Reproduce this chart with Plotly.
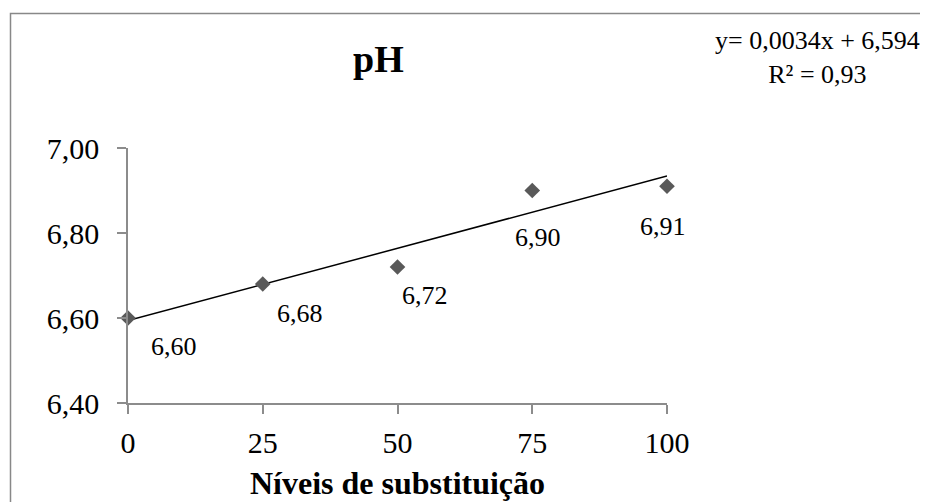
import plotly.graph_objects as go

niveis = [0, 25, 50, 75, 100]
ph = [6.60, 6.68, 6.72, 6.90, 6.91]
ph_labels = ["6,60", "6,68", "6,72", "6,90", "6,91"]
x_ticks = [0, 25, 50, 75, 100]
y_ticks = [6.40, 6.60, 6.80, 7.00]
y_tick_labels = ["6,40", "6,60", "6,80", "7,00"]
slope = 0.0034
intercept = 6.594
equation_text = "y= 0,0034x + 6,594<br>R² = 0,93"
title_text = "pH"
x_title = "Níveis de substituição"

# label offsets (pixels) for data labels
label_dx = [46, 37, 27, 6, -4]
label_dy = [-28, -29, -28, -47, -40]

FONT = "Liberation Serif, Times New Roman, serif"

# page body has an 8px margin; figure coordinates = screen - 8
OFF = 8
L, T, PW, PH = 128 - OFF, 148 - OFF, 539, 255
W, H = 928, 502


def px(sx):
    return (sx - OFF - L) / PW


def py(sy):
    return (T + PH - (sy - OFF)) / PH


fig = go.Figure()
trend_x = [min(niveis), max(niveis)]
trend_y = [intercept + slope * v for v in trend_x]
fig.add_trace(go.Scatter(x=trend_x, y=trend_y, mode="lines",
                         line=dict(color="black", width=1.5),
                         showlegend=False, hoverinfo="skip", cliponaxis=False))
fig.add_trace(go.Scatter(x=niveis, y=ph, mode="markers",
                         marker=dict(symbol="diamond", size=12, color="#595959"),
                         showlegend=False, cliponaxis=False))

for xv, yv, t, dx, dy in zip(niveis, ph, ph_labels, label_dx, label_dy):
    fig.add_annotation(x=xv, y=yv, xref="x", yref="y", text=t, showarrow=False,
                       xshift=dx, yshift=dy,
                       font=dict(family=FONT, size=26, color="black"))

fig.add_annotation(x=px(378), y=py(59), xref="paper", yref="paper",
                   text="<b>" + title_text + "</b>", showarrow=False,
                   xanchor="center", yanchor="middle",
                   font=dict(family=FONT, size=38, color="black"))
fig.add_annotation(x=px(817), y=py(58), xref="paper", yref="paper",
                   text=equation_text, showarrow=False, align="center",
                   xanchor="center", yanchor="middle",
                   font=dict(family=FONT, size=26, color="black"))

fig.add_shape(type="rect", xref="paper", yref="paper",
              x0=px(10.5), x1=px(960), y0=py(540), y1=py(13.5),
              line=dict(color="#888888", width=1.5), fillcolor="rgba(0,0,0,0)")

fig.update_layout(
    width=W, height=H,
    margin=dict(l=L, r=W - L - PW, t=T, b=H - T - PH),
    paper_bgcolor="white", plot_bgcolor="white",
    font=dict(family=FONT, color="black"),
    showlegend=False,
)
fig.update_xaxes(range=[0, 100], tickvals=x_ticks, ticktext=[str(v) for v in x_ticks],
                 showgrid=False, zeroline=False, showline=True, linecolor="#8c8c8c", linewidth=1.5,
                 ticks="outside", ticklen=9, tickcolor="#8c8c8c", tickwidth=1.5,
                 ticklabelstandoff=3,
                 tickfont=dict(family=FONT, size=30, color="black"),
                 title=dict(text="<b>" + x_title + "</b>", font=dict(family=FONT, size=32, color="black"),
                            standoff=14))
fig.update_yaxes(range=[6.40, 7.00], tickvals=y_ticks, ticktext=y_tick_labels,
                 showgrid=False, zeroline=False, showline=True, linecolor="#8c8c8c", linewidth=1.5,
                 ticks="outside", ticklen=9, tickcolor="#8c8c8c", tickwidth=1.5,
                 ticklabelstandoff=12,
                 tickfont=dict(family=FONT, size=30, color="black"))

fig.write_html("out.html")
